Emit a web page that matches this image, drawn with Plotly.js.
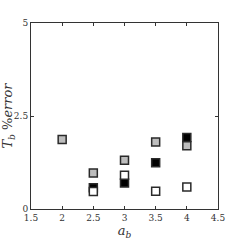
<!DOCTYPE html>
<html>
<head>
<meta charset="utf-8">
<script src="https://cdn.plot.ly/plotly-3.0.1.min.js"></script>
<style>html,body{margin:0;padding:0;background:#fff;}#chart{width:241px;height:241px;}</style>
</head>
<body>
<div id="chart"></div>
<script>
var blackX = [2.5, 3, 3.5, 4];
var blackY = [0.57, 0.70, 1.24, 1.92];
var whiteX = [2.5, 3, 3.5, 4];
var whiteY = [0.47, 0.91, 0.48, 0.59];
var grayX = [2, 2.5, 3, 3.5, 4];
var grayY = [1.87, 0.97, 1.31, 1.80, 1.70];
var xTicks = [1.5, 2, 2.5, 3, 3.5, 4, 4.5];
var xTickText = ['1.5', '2', '2.5', '3', '3.5', '4', '4.5'];
var yTicks = [0, 2.5, 5];
var yTickText = ['0', '2.5', '5'];

function series(x, y, fill) {
  return {
    x: x, y: y, type: 'scatter', mode: 'markers', showlegend: false,
    marker: {symbol: 'square', size: 8, color: fill, line: {color: '#2a2a2a', width: 1.5}}
  };
}
var data = [series(blackX, blackY, '#000000'), series(whiteX, whiteY, '#ffffff'), series(grayX, grayY, '#bdbdbd')];

var serif = 'DejaVu Serif, Liberation Serif, serif';
var axisCommon = {
  showgrid: false, zeroline: false, showline: true, linecolor: '#333', linewidth: 1,
  ticks: 'inside', ticklen: 3, tickcolor: '#333', mirror: 'ticks',
  tickfont: {family: serif, size: 9, color: '#333'}
};
var layout = {
  width: 241, height: 241,
  margin: {l: 31, r: 23, t: 23, b: 32},
  paper_bgcolor: '#fff', plot_bgcolor: '#fff',
  xaxis: Object.assign({}, axisCommon, {
    range: [1.5, 4.5], tickmode: 'array', tickvals: xTicks, ticktext: xTickText,
    ticklabelstandoff: 0,
    title: {text: '<i>a</i><sub><i>b</i></sub>', font: {family: serif, size: 13, color: '#333'}, standoff: 4}
  }),
  yaxis: Object.assign({}, axisCommon, {
    range: [0, 5], tickmode: 'array', tickvals: yTicks, ticktext: yTickText,
    title: {text: '<i>T</i><sub><i>b</i></sub> %<i>error</i>', font: {family: serif, size: 13, color: '#333'}, standoff: 4}
  })
};
Plotly.newPlot('chart', data, layout, {staticPlot: true, displayModeBar: false});
</script>
</body>
</html>
